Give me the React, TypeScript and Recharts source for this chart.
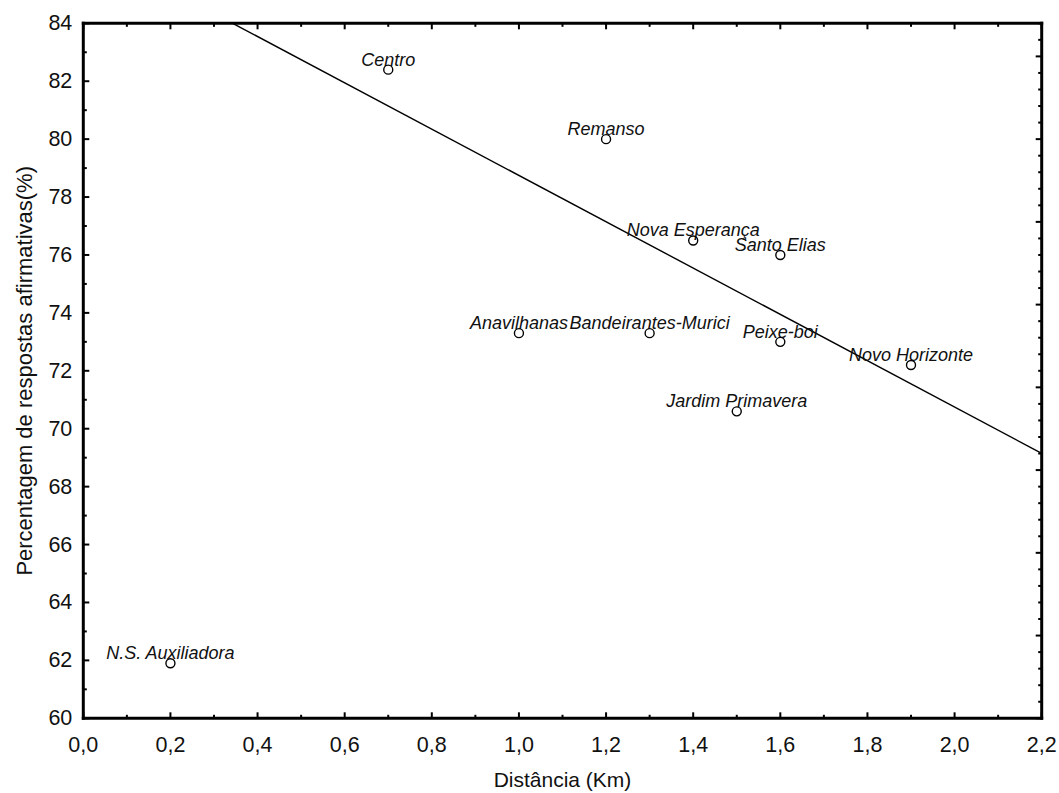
import React from 'react';
import { ScatterChart, Scatter, XAxis, YAxis, ReferenceLine } from 'recharts';

const categories = ['N.S. Auxiliadora', 'Centro', 'Anavilhanas', 'Remanso', 'Bandeirantes-Murici', 'Nova Esperança', 'Jardim Primavera', 'Santo Elias', 'Peixe-boi', 'Novo Horizonte'];
const distances = [0.2, 0.7, 1.0, 1.2, 1.3, 1.4, 1.5, 1.6, 1.6, 1.9];
const percents = [61.9, 82.4, 73.3, 80.0, 73.3, 76.5, 70.6, 76.0, 73.0, 72.2];

const fitX = [0.343, 2.2];
const fitY = [84, 69.15];

const xTicks = [0, 0.1, 0.2, 0.3, 0.4, 0.5, 0.6, 0.7, 0.8, 0.9, 1.0, 1.1, 1.2, 1.3, 1.4, 1.5, 1.6, 1.7, 1.8, 1.9, 2.0, 2.1, 2.2];
const yTicks = [60, 61, 62, 63, 64, 65, 66, 67, 68, 69, 70, 71, 72, 73, 74, 75, 76, 77, 78, 79, 80, 81, 82, 83, 84];
const rightTicks = [0, 0.2, 0.4, 0.6, 0.8, 1, 1.2, 1.4, 1.6, 1.8, 2, 2.2, 2.4, 2.6, 2.8, 3, 3.2, 3.4, 3.6, 3.8, 4, 4.2, 4.4, 4.6, 4.8, 5, 5.2, 5.4, 5.6, 5.8, 6, 6.2, 6.4, 6.6, 6.8, 7, 7.2, 7.4, 7.6, 7.8, 8, 8.2, 8.4];

const xTitle = 'Distância (Km)';
const yTitle = 'Percentagem de respostas afirmativas(%)';

const FONT = '"Liberation Sans", Arial, sans-serif';

const data = categories.map((name, i) => ({ name, x: distances[i], y: percents[i] }));
const emptyData: { x: number; y: number }[] = [];

const fmt = (v: number) => v.toFixed(1).replace('.', ',');

const isMajorX = (v: number) => Math.round(v * 10) % 2 === 0;

const BottomTick = (props: any) => {
  const { x, y, payload } = props;
  const v = payload.value;
  const major = isMajorX(v);
  return (
    <g>
      <line x1={x} x2={x} y1={y} y2={y - (major ? 6 : 3.5)} stroke="#000" strokeWidth={2} />
      {major && (
        <text x={x} y={y + 27} textAnchor="middle" dominantBaseline="central" fontFamily={FONT} fontSize={21.5} fill="#111">
          {fmt(v)}
        </text>
      )}
    </g>
  );
};

const TopTick = (props: any) => {
  const { x, y, payload } = props;
  const major = isMajorX(payload.value);
  return <line x1={x} x2={x} y1={y} y2={y + (major ? 6 : 3.5)} stroke="#000" strokeWidth={2} />;
};

const LeftTick = (props: any) => {
  const { x, y, payload } = props;
  const v = payload.value;
  const major = v % 2 === 0;
  return (
    <g>
      <line x1={x} x2={x + (major ? 6 : 3.5)} y1={y} y2={y} stroke="#000" strokeWidth={2} />
      {major && (
        <text x={x - 11} y={y} textAnchor="end" dominantBaseline="central" fontFamily={FONT} fontSize={21.5} fill="#111">
          {String(v)}
        </text>
      )}
    </g>
  );
};

const RightTick = (props: any) => {
  const { x, y, payload } = props;
  const major = Math.round(payload.value * 10) % 10 === 0;
  return <line x1={x} x2={x - (major ? 6 : 3.5)} y1={y} y2={y} stroke="#000" strokeWidth={2} />;
};

const XTitle = (props: any) => {
  const vb = props.viewBox || {};
  return (
    <text x={vb.x + vb.width / 2} y={vb.y + 61} textAnchor="middle" dominantBaseline="central" fontFamily={FONT} fontSize={21} fill="#111">
      {xTitle}
    </text>
  );
};

const YTitle = (props: any) => {
  const vb = props.viewBox || {};
  const cx = 25;
  const cy = vb.y + vb.height / 2;
  return (
    <text x={cx} y={cy} transform={`rotate(-90, ${cx}, ${cy})`} textAnchor="middle" dominantBaseline="central" fontFamily={FONT} fontSize={22} fill="#111">
      {yTitle}
    </text>
  );
};

const PointShape = (props: any) => {
  const { cx, cy, payload } = props;
  return (
    <g>
      <text x={cx} y={cy - 10} textAnchor="middle" dominantBaseline="central" fontFamily={FONT} fontStyle="italic" fontSize={18} fill="#111">
        {payload.name}
      </text>
      <circle cx={cx} cy={cy} r={4.5} fill="none" stroke="#000" strokeWidth={1.4} />
    </g>
  );
};

const axisLine = { stroke: '#000', strokeWidth: 3, strokeLinecap: 'square' as const };

export default function App() {
  return (
    <div style={{ position: 'absolute', left: 0, top: 0, background: '#fff' }}>
      <ScatterChart width={1059} height={793} margin={{ top: 22.3, right: 16.3, bottom: 4.7, left: 13.3 }}>
        <XAxis
          xAxisId="b"
          type="number"
          dataKey="x"
          domain={[0, 2.2]}
          ticks={xTicks}
          interval={0}
          tickSize={0}
          tickMargin={0}
          tickLine={false}
          axisLine={axisLine}
          tick={<BottomTick />}
          height={70}
          allowDataOverflow
          label={{ content: <XTitle /> }}
        />
        <XAxis
          xAxisId="top"
          orientation="top"
          type="number"
          dataKey="x"
          domain={[0, 2.2]}
          ticks={xTicks}
          interval={0}
          tickSize={0}
          tickMargin={0}
          tickLine={false}
          axisLine={axisLine}
          tick={<TopTick />}
          height={1}
          allowDataOverflow
        />
        <YAxis
          yAxisId="l"
          type="number"
          dataKey="y"
          domain={[60, 84]}
          ticks={yTicks}
          interval={0}
          tickSize={0}
          tickMargin={0}
          tickLine={false}
          axisLine={axisLine}
          tick={<LeftTick />}
          width={70}
          allowDataOverflow
          label={{ content: <YTitle /> }}
        />
        <YAxis
          yAxisId="r"
          orientation="right"
          type="number"
          dataKey="y"
          domain={[0, 8.4]}
          ticks={rightTicks}
          interval={0}
          tickSize={0}
          tickMargin={0}
          tickLine={false}
          axisLine={axisLine}
          tick={<RightTick />}
          width={1}
          allowDataOverflow
        />
        <ReferenceLine
          xAxisId="b"
          yAxisId="l"
          segment={[{ x: fitX[0], y: fitY[0] }, { x: fitX[1], y: fitY[1] }]}
          stroke="#000"
          strokeWidth={1.4}
          ifOverflow="visible"
        />
        <Scatter xAxisId="top" yAxisId="r" data={emptyData} isAnimationActive={false} />
        <Scatter xAxisId="b" yAxisId="l" data={data} shape={<PointShape />} isAnimationActive={false} />
      </ScatterChart>
    </div>
  );
}
